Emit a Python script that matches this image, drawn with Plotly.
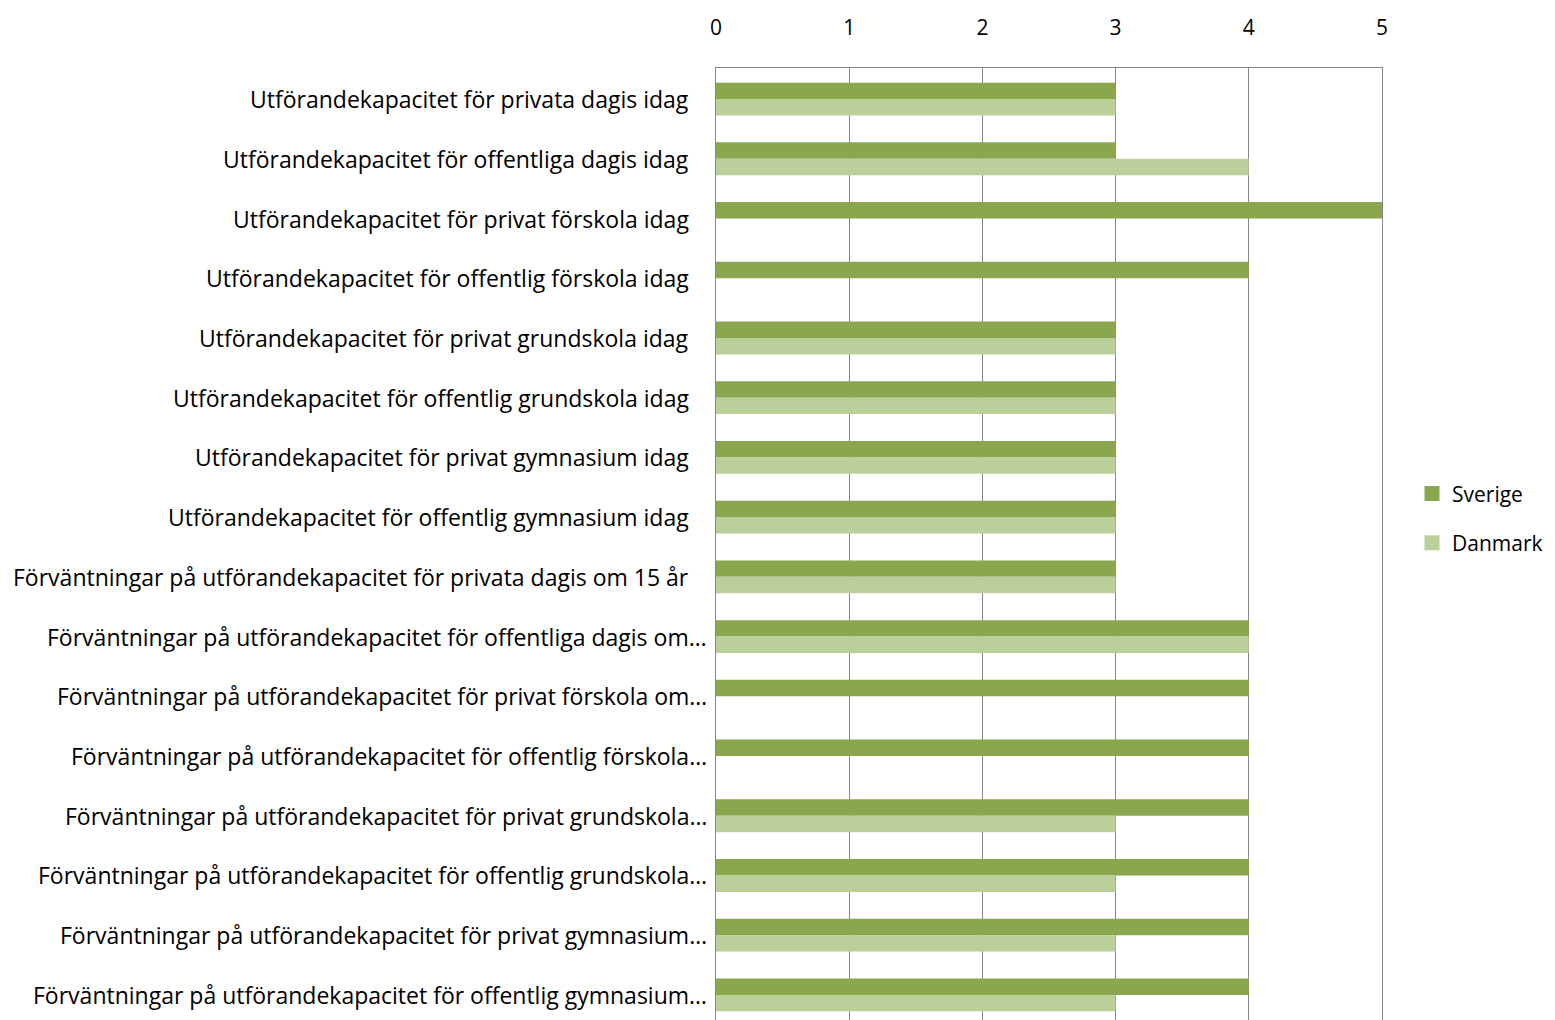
import plotly.graph_objects as go

categories = [
    "Utförandekapacitet för privata dagis idag",
    "Utförandekapacitet för offentliga dagis idag",
    "Utförandekapacitet för privat förskola idag",
    "Utförandekapacitet för offentlig förskola idag",
    "Utförandekapacitet för privat grundskola idag",
    "Utförandekapacitet för offentlig grundskola idag",
    "Utförandekapacitet för privat gymnasium idag",
    "Utförandekapacitet för offentlig gymnasium idag",
    "Förväntningar på utförandekapacitet för privata dagis om 15 år",
    "Förväntningar på utförandekapacitet för offentliga dagis om…",
    "Förväntningar på utförandekapacitet för privat förskola om…",
    "Förväntningar på utförandekapacitet för offentlig förskola…",
    "Förväntningar på utförandekapacitet för privat grundskola…",
    "Förväntningar på utförandekapacitet för offentlig grundskola…",
    "Förväntningar på utförandekapacitet för privat gymnasium…",
    "Förväntningar på utförandekapacitet för offentlig gymnasium…",
]
sverige = [3, 3, 5, 4, 3, 3, 3, 3, 3, 4, 4, 4, 4, 4, 4, 4]
danmark = [3, 4, 0, 0, 3, 3, 3, 3, 3, 4, 0, 0, 3, 3, 3, 3]
series_names = ["Sverige", "Danmark"]
series_colors = ["#8aa64f", "#bacf99"]
x_ticks = [0, 1, 2, 3, 4, 5]

FONT = "Open Sans"
FS = 23
OFF = 8  # page body margin
W, H = 1555 - OFF, 1020 - OFF
L, T, B = 716 - OFF, 68 - OFF, 0
plot_w = 666
R = W - L - plot_w

fig = go.Figure()
for name, vals, col in zip(series_names, [sverige, danmark], series_colors):
    fig.add_trace(go.Bar(y=categories, x=vals, name=name, orientation="h",
                         showlegend=False,
                         marker=dict(color=col, line=dict(width=0))))
# legend entries with larger square swatches
for name, col in zip(series_names, series_colors):
    fig.add_trace(go.Scatter(x=[None], y=[None], name=name, mode="markers",
                             legendgroup=name,
                             marker=dict(symbol="square", size=15, color=col)))

annotations = []
for c in categories:
    truncated = c.endswith("…")
    end_px = 709 if truncated else 691
    annotations.append(dict(
        x=(end_px - 716) / plot_w, xref="paper", y=c, yref="y",
        text=c, showarrow=False, xanchor="right", yanchor="middle",
        font=dict(family=FONT, size=FS, color="#000000"),
    ))

fig.update_layout(
    width=W, height=H,
    margin=dict(l=L, r=R, t=T, b=B, pad=0),
    paper_bgcolor="white", plot_bgcolor="white",
    barmode="group", bargap=0.45, bargroupgap=0,
    font=dict(family=FONT, size=FS, color="#000000"),
    showlegend=True,
    legend=dict(x=(1412 - 716) / plot_w, y=0.527, xanchor="left", yanchor="middle",
                font=dict(family=FONT, size=FS - 2, color="#000000"),
                itemwidth=30, tracegroupgap=19, traceorder="grouped",
                bgcolor="rgba(0,0,0,0)", borderwidth=0),
    annotations=annotations,
    xaxis=dict(side="top", range=[0, 5], tickvals=x_ticks, showgrid=True,
               gridcolor="#868686", gridwidth=1.3, zeroline=False,
               showline=True, linecolor="#868686", linewidth=1.3,
               ticks="outside", ticklen=0, ticklabelstandoff=23,
               tickfont=dict(family=FONT, size=FS - 2, color="#000000"), fixedrange=True),
    yaxis=dict(type="category", categoryorder="array", categoryarray=categories,
               range=[15.42, -0.52], showticklabels=False, showgrid=False,
               zeroline=False, showline=True, mirror=True,
               linecolor="#868686", linewidth=1.3, ticks=""),
)

fig.write_html("out.html")
